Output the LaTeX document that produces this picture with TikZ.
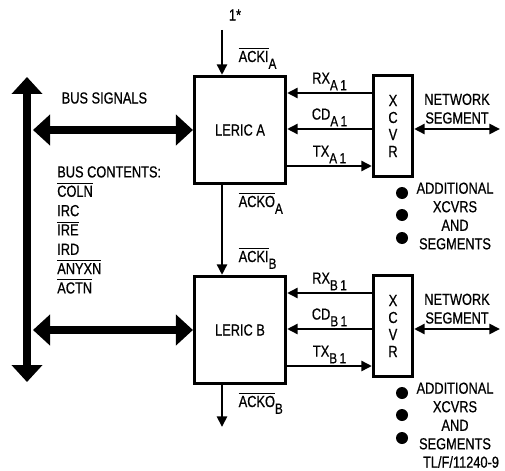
\documentclass[tikz,border=0pt]{standalone}
\usepackage{fontspec}
\setmainfont{Liberation Sans}[FakeStretch=0.8,FakeBold=0.6]
\usetikzlibrary{arrows.meta,calc}

\newcommand{\ovl}[1]{\leavevmode\vbox{\hrule height 0.7pt\kern 1.4pt\hbox{#1}}}
\newcommand{\lowr}[1]{\raisebox{-0.8ex}{\fontsize{11}{11}\selectfont #1}}

\tikzset{
  every node/.style={font=\fontsize{12}{14}\selectfont},
  leric/.style={draw, line width=2.6pt, minimum width=68pt, minimum height=80pt},
  xcvr/.style={draw, line width=2.6pt, minimum width=29pt, minimum height=75.5pt,
    align=center, font=\fontsize{12}{12.75}\selectfont},
  sig/.style={line width=2pt, -{Triangle[length=8pt,width=7.5pt]}},
  sigboth/.style={line width=2pt, {Triangle[length=8pt,width=7.5pt]}-{Triangle[length=8pt,width=7.5pt]}},
  bus/.style={line width=6pt, {Triangle[length=12.75pt,width=22.5pt]}-{Triangle[length=12.75pt,width=22.5pt]}},
  dot/.style={circle, fill, inner sep=0pt, minimum size=9pt},
}

\begin{document}
\begin{tikzpicture}[x=0.75pt,y=-0.75pt]
\useasboundingbox (0,0) rectangle (505,470);
% system bus
\coordinate (bustop) at (27,77);
\coordinate (busbot) at (27,382);
\coordinate (busedge) at (33,0);
\draw[bus] (bustop) -- (busbot);
\node[anchor=west] (bussig) at (57,98) {BUS SIGNALS};
\node[anchor=north west, inner sep=0pt, align=left, font=\fontsize{12}{14.5}\selectfont] (contents) at (57,166)
  {BUS CONTENTS:\\ \ovl{COLN}\\ IRC\\ \ovl{IRE}\\ IRD\\ \ovl{ANYXN}\\ \ovl{ACTN}};
% one LERIC with its transceiver
\foreach \u/\y in {A/130,B/330}{
  \node[leric] (leric\u) at (240,\y) {LERIC \u};
  \node[xcvr] (xcvr\u) at (393,\y-4) {X\\C\\V\\R};
  \coordinate (net\u) at (500,\y-1);
  \draw[bus] (busedge |- leric\u.west) -- (leric\u.west);
  \foreach \s/\dy in {RX/-37,CD/-1}
    \draw[sig] ($(xcvr\u.west |- leric\u.center)+(0,\dy)$) -- node[above=1pt, inner sep=0pt] {\s\lowr{\u\,1}} ($(leric\u.east)+(0,\dy)$);
  \draw[sig] ($(leric\u.east)+(0,36)$) -- node[above=1pt, inner sep=0pt] {TX\lowr{\u\,1}} ($(xcvr\u.west |- leric\u.center)+(0,36)$);
  \draw[sigboth] (net\u -| xcvr\u.east) -- node[above=3pt, inner sep=0pt, align=center] {NETWORK\\SEGMENT} (net\u);
  \foreach \dy [count=\k] in {67,89,112}
    \node[dot] (dot\u\k) at ($(xcvr\u)+(9,\dy)$) {};
  \node[align=center, font=\fontsize{12}{13.9}\selectfont] (more\u) at ($(xcvr\u)+(62,90)$)
    {ADDITIONAL\\XCVRS\\AND\\SEGMENTS};
}
% acknowledge chain
\coordinate (ackin) at (222,30);
\coordinate (ackout) at (222,427);
\node (one) at (235,15) {1*};
\draw[sig] (ackin) -- (ackin |- lericA.north);
\draw[sig] (lericA.south -| ackin) -- (lericB.north -| ackin);
\draw[sig] (lericB.south -| ackout) -- (ackout);
\node[anchor=base west] (ackiA) at (234,62) {\ovl{ACKI}\lowr{A}};
\node[anchor=base west] (ackoA) at (234,207) {\ovl{ACKO}\lowr{A}};
\node[anchor=base west] (ackiB) at (234,262) {\ovl{ACKI}\lowr{B}};
\node[anchor=base west] (ackoB) at (234,407) {\ovl{ACKO}\lowr{B}};
\node (figno) at (461,462) {TL/F/11240-9};
\end{tikzpicture}
\end{document}
